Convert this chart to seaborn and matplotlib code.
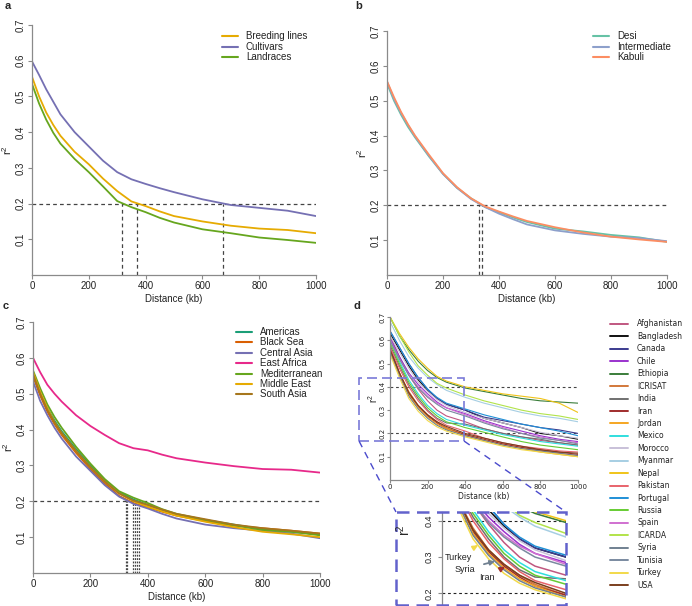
import numpy as np
import pandas as pd
import matplotlib
matplotlib.use('Agg')
import matplotlib.pyplot as plt
import seaborn as sns
from matplotlib.lines import Line2D
from matplotlib.patches import Rectangle

W, H = 692, 606

# ==================== DATA ====================

dist = [0, 25, 50, 75, 100, 150, 200, 250, 300, 350, 400, 450, 500, 600, 700, 800, 900, 1000]

# panel a
groups_a = ['Breeding lines', 'Cultivars', 'Landraces']
breeding = [0.555, 0.50, 0.455, 0.42, 0.39, 0.345, 0.31, 0.27, 0.235, 0.206, 0.193, 0.178, 0.165, 0.15, 0.138, 0.13, 0.126, 0.117]
cultivars = [0.598, 0.56, 0.52, 0.485, 0.45, 0.40, 0.36, 0.32, 0.288, 0.268, 0.255, 0.243, 0.232, 0.212, 0.196, 0.188, 0.18, 0.165]
landraces = [0.535, 0.48, 0.435, 0.398, 0.368, 0.325, 0.288, 0.248, 0.207, 0.19, 0.176, 0.16, 0.147, 0.128, 0.117, 0.105, 0.098, 0.09]
colors_a = ['#e6ab02', '#7570b3', '#66a61e']
cross_a = [316, 370, 672]

# panel b
groups_b = ['Desi', 'Intermediate', 'Kabuli']
desi = [0.55, 0.50, 0.46, 0.425, 0.395, 0.34, 0.29, 0.25, 0.22, 0.195, 0.18, 0.165, 0.152, 0.133, 0.125, 0.115, 0.108, 0.095]
intermediate = [0.555, 0.505, 0.465, 0.43, 0.398, 0.342, 0.29, 0.25, 0.218, 0.195, 0.176, 0.16, 0.145, 0.128, 0.118, 0.11, 0.106, 0.097]
kabuli = [0.556, 0.51, 0.468, 0.432, 0.40, 0.345, 0.292, 0.252, 0.22, 0.197, 0.182, 0.168, 0.155, 0.137, 0.122, 0.11, 0.102, 0.095]
colors_b = ['#66c2a5', '#8da0cb', '#fc8d62']
cross_b = [330, 340]

# panel c
groups_c = ['Americas', 'Black Sea', 'Central Asia', 'East Africa', 'Mediterranean', 'Middle East', 'South Asia']
americas = [0.55, 0.50, 0.46, 0.425, 0.395, 0.345, 0.30, 0.258, 0.225, 0.205, 0.19, 0.175, 0.163, 0.148, 0.135, 0.122, 0.115, 0.108]
black_sea = [0.55, 0.495, 0.45, 0.415, 0.385, 0.335, 0.29, 0.25, 0.215, 0.195, 0.183, 0.171, 0.16, 0.145, 0.132, 0.125, 0.118, 0.11]
central_asia = [0.535, 0.48, 0.44, 0.405, 0.375, 0.325, 0.285, 0.245, 0.213, 0.193, 0.18, 0.165, 0.152, 0.135, 0.125, 0.118, 0.11, 0.097]
east_africa = [0.60, 0.56, 0.525, 0.50, 0.478, 0.44, 0.41, 0.385, 0.362, 0.348, 0.342, 0.33, 0.32, 0.308, 0.298, 0.29, 0.288, 0.28]
mediterranean = [0.565, 0.515, 0.47, 0.435, 0.405, 0.352, 0.305, 0.262, 0.228, 0.21, 0.195, 0.178, 0.165, 0.148, 0.133, 0.12, 0.115, 0.105]
middle_east = [0.56, 0.505, 0.46, 0.42, 0.39, 0.34, 0.295, 0.255, 0.222, 0.20, 0.185, 0.172, 0.16, 0.143, 0.128, 0.115, 0.108, 0.10]
south_asia = [0.555, 0.50, 0.455, 0.42, 0.39, 0.34, 0.295, 0.255, 0.222, 0.202, 0.19, 0.177, 0.165, 0.15, 0.135, 0.125, 0.118, 0.11]
colors_c = sns.color_palette('Dark2', 7).as_hex()
cross_c = [324, 329, 349, 354, 364, 370]

# panel d
dist_d = [0, 50, 100, 150, 200, 250, 300, 400, 500, 600, 700, 800, 900, 1000]
countries = ['Afghanistan', 'Bangladesh', 'Canada', 'Chile', 'Ethiopia', 'ICRISAT', 'India', 'Iran',
             'Jordan', 'Mexico', 'Morocco', 'Myanmar', 'Nepal', 'Pakistan', 'Portugal', 'Russia',
             'Spain', 'ICARDA', 'Syria', 'Tunisia', 'Turkey', 'USA']
colors_d = ['#c05780', '#111111', '#3b3b8f', '#9a32cd', '#3a7d3a', '#d2783a', '#707070', '#a02c2c',
            '#f5a623', '#30dede', '#c8c0d8', '#a6cee3', '#f0c419', '#e8636b', '#1f8fd6', '#66cc33',
            '#d070d0', '#b2e34a', '#708090', '#7a8aa0', '#f2d94a', '#7b3f1e']
afghanistan = [0.62, 0.53, 0.45, 0.39, 0.34, 0.30, 0.275, 0.25, 0.22, 0.20, 0.185, 0.17, 0.16, 0.15]
bangladesh = [0.63, 0.56, 0.49, 0.43, 0.385, 0.35, 0.325, 0.30, 0.265, 0.245, 0.225, 0.20, 0.19, 0.175]
canada = [0.64, 0.57, 0.50, 0.44, 0.39, 0.35, 0.325, 0.30, 0.27, 0.255, 0.24, 0.225, 0.215, 0.20]
chile = [0.61, 0.53, 0.46, 0.41, 0.37, 0.335, 0.31, 0.285, 0.255, 0.23, 0.21, 0.19, 0.175, 0.165]
ethiopia = [0.70, 0.62, 0.56, 0.51, 0.47, 0.44, 0.42, 0.395, 0.38, 0.365, 0.35, 0.34, 0.335, 0.33]
icrisat = [0.56, 0.46, 0.38, 0.32, 0.28, 0.25, 0.225, 0.195, 0.17, 0.155, 0.14, 0.125, 0.115, 0.105]
india = [0.58, 0.49, 0.41, 0.35, 0.30, 0.265, 0.245, 0.24, 0.22, 0.20, 0.185, 0.175, 0.16, 0.15]
iran = [0.57, 0.46, 0.37, 0.315, 0.275, 0.245, 0.22, 0.195, 0.175, 0.155, 0.14, 0.13, 0.12, 0.11]
jordan = [0.55, 0.45, 0.365, 0.31, 0.27, 0.24, 0.22, 0.19, 0.17, 0.15, 0.135, 0.12, 0.11, 0.10]
mexico = [0.60, 0.51, 0.43, 0.37, 0.32, 0.285, 0.26, 0.235, 0.215, 0.195, 0.18, 0.165, 0.155, 0.145]
morocco = [0.62, 0.55, 0.48, 0.42, 0.38, 0.345, 0.32, 0.29, 0.265, 0.245, 0.225, 0.205, 0.19, 0.18]
myanmar = [0.68, 0.60, 0.53, 0.48, 0.44, 0.41, 0.385, 0.355, 0.33, 0.31, 0.29, 0.275, 0.265, 0.25]
nepal = [0.70, 0.63, 0.57, 0.52, 0.48, 0.445, 0.425, 0.40, 0.385, 0.37, 0.36, 0.35, 0.33, 0.29]
pakistan = [0.57, 0.48, 0.40, 0.34, 0.295, 0.26, 0.235, 0.21, 0.18, 0.16, 0.145, 0.135, 0.125, 0.12]
portugal = [0.64, 0.57, 0.50, 0.44, 0.39, 0.355, 0.33, 0.305, 0.28, 0.26, 0.24, 0.225, 0.21, 0.19]
russia = [0.59, 0.50, 0.42, 0.36, 0.31, 0.275, 0.25, 0.225, 0.205, 0.185, 0.165, 0.15, 0.14, 0.13]
spain = [0.60, 0.52, 0.45, 0.40, 0.36, 0.33, 0.31, 0.28, 0.25, 0.225, 0.20, 0.185, 0.17, 0.16]
icarda = [0.70, 0.62, 0.55, 0.49, 0.45, 0.415, 0.395, 0.365, 0.34, 0.32, 0.30, 0.285, 0.275, 0.26]
syria = [0.55, 0.45, 0.36, 0.305, 0.265, 0.235, 0.215, 0.19, 0.17, 0.15, 0.135, 0.125, 0.115, 0.105]
tunisia = [0.60, 0.52, 0.45, 0.395, 0.355, 0.325, 0.30, 0.275, 0.245, 0.22, 0.20, 0.18, 0.17, 0.155]
turkey = [0.54, 0.44, 0.35, 0.295, 0.255, 0.228, 0.21, 0.185, 0.165, 0.145, 0.13, 0.12, 0.11, 0.10]
usa = [0.56, 0.46, 0.375, 0.32, 0.28, 0.25, 0.23, 0.20, 0.18, 0.16, 0.145, 0.13, 0.12, 0.115]
values_d = [afghanistan, bangladesh, canada, chile, ethiopia, icrisat, india, iran, jordan, mexico,
            morocco, myanmar, nepal, pakistan, portugal, russia, spain, icarda, syria, tunisia, turkey, usa]
thresholds_d = [0.2, 0.4]

# ==================== HELPERS ====================

sns.set_style('ticks')
plt.rcParams['font.family'] = ['Liberation Sans', 'DejaVu Sans']
plt.rcParams['mathtext.fontset'] = 'custom'
plt.rcParams['mathtext.rm'] = 'Liberation Sans'

AX_GRAY = '#8a8a8a'
TXT = '#222222'
REF = '#444444'


def rect(l, t, r, b):
    return [l / W, 1 - b / H, (r - l) / W, (b - t) / H]


def long_df(x, names, series):
    rows = []
    for name, vals in zip(names, series):
        for xi, v in zip(x, vals):
            rows.append((name, xi, v))
    return pd.DataFrame(rows, columns=['group', 'dist', 'r2'])


def style_axes(ax, fs=7, family=None, tick_len=3, pad=1.5):
    for s in ['top', 'right']:
        ax.spines[s].set_visible(False)
    for s in ['left', 'bottom']:
        ax.spines[s].set_color(AX_GRAY)
        ax.spines[s].set_linewidth(0.9)
    ax.tick_params(colors=AX_GRAY, labelcolor=TXT, labelsize=fs, length=tick_len, width=0.8, pad=pad)
    ax.tick_params(axis='y', labelrotation=90)
    for lab in ax.get_yticklabels():
        lab.set_va('center')
        if family:
            lab.set_family(family)
    if family:
        for lab in ax.get_xticklabels():
            lab.set_family(family)


def add_legend(fig, labels, colors, x0, y0, dy, fs, hl=16, gap=8, lw=1.5, family=None):
    for i, (lab, col) in enumerate(zip(labels, colors)):
        y = 1 - (y0 + i * dy) / H
        fig.add_artist(Line2D([x0 / W, (x0 + hl) / W], [y, y], color=col, lw=lw))
        kw = {'family': family} if family else {}
        fig.text((x0 + hl + gap) / W, y, lab, fontsize=fs, va='center', color=TXT, **kw)


def ld_panel(fig, box, names, series, colors, crosses, label_pos, legend, vdash=(3, 2.5)):
    ax = fig.add_axes(rect(*box))
    df = long_df(dist, names, series)
    sns.lineplot(data=df, x='dist', y='r2', hue='group', hue_order=names,
                 palette=dict(zip(names, colors)), estimator=None, legend=False, lw=1.3, ax=ax)
    ax.axhline(0.2, color=REF, ls=(0, (3, 2.5)), lw=0.9, zorder=0)
    ax.vlines(crosses, 0, 0.2, color=REF, ls=(0, vdash), lw=0.9, zorder=0)
    ax.set_xlim(0, 1000)
    ax.set_ylim(0, 0.7)
    ax.set_xticks([0, 200, 400, 600, 800, 1000])
    ax.set_yticks([0.1, 0.2, 0.3, 0.4, 0.5, 0.6, 0.7])
    ax.set_yticklabels(['0.1', '0.2', '0.3', '0.4', '0.5', '0.6', '0.7'])
    ax.set_xlabel('Distance (kb)', fontsize=7, color=TXT, labelpad=2)
    ax.set_ylabel(r'$\mathregular{r^2}$', fontsize=8, color=TXT, labelpad=1)
    style_axes(ax)
    fig.text(label_pos[0] / W, 1 - label_pos[1] / H, label_pos[2], fontsize=8, fontweight='bold',
             ha='center', va='center')
    add_legend(fig, names, colors, *legend, fs=7)
    return ax


# ==================== FIGURE ====================

fig = plt.figure(figsize=(W / 100, H / 100), dpi=100)

ld_panel(fig, (32, 25, 316, 275), groups_a, [breeding, cultivars, landraces], colors_a, cross_a,
         (8, 6, 'a'), (222, 36, 10.5))
ld_panel(fig, (387, 31, 667, 275), groups_b, [desi, intermediate, kabuli], colors_b, cross_b,
         (359, 6, 'b'), (593, 36, 10.5))
ld_panel(fig, (33, 322, 320, 573), groups_c,
         [americas, black_sea, central_asia, east_africa, mediterranean, middle_east, south_asia],
         colors_c, cross_c, (6, 306, 'c'), (236, 332, 10.4), vdash=(1.5, 1.2))

# panel d main
pal_d = dict(zip(countries, colors_d))
df_d = long_df(dist_d, countries, values_d)
axd = fig.add_axes(rect(390, 317, 578, 480))
sns.lineplot(data=df_d, x='dist', y='r2', hue='group', hue_order=countries, palette=pal_d,
             estimator=None, legend=False, lw=0.8, ax=axd)
for t in thresholds_d:
    axd.axhline(t, color=REF, ls=(0, (2.5, 2.5)), lw=0.8, zorder=0)
axd.set_xlim(0, 1000)
axd.set_ylim(0, 0.7)
axd.set_xticks([0, 200, 400, 600, 800, 1000])
axd.set_yticks([0.1, 0.2, 0.3, 0.4, 0.5, 0.6, 0.7])
axd.set_yticklabels(['0.1', '0.2', '0.3', '0.4', '0.5', '0.6', '0.7'])
axd.set_xlabel('Distance (kb)', fontsize=5.5, color=TXT, labelpad=1.5, family='DejaVu Sans')
axd.set_ylabel(r'$\mathregular{r^2}$', fontsize=7, color=TXT, labelpad=0)
style_axes(axd, fs=5, family='DejaVu Sans', tick_len=2, pad=1)
fig.text(357 / W, 1 - 306 / H, 'd', fontsize=8, fontweight='bold', ha='center', va='center')
add_legend(fig, countries, colors_d, 610, 324, 12.43, fs=5.5, hl=18, gap=9, lw=1.4, family='DejaVu Sans')

# inset
axi = fig.add_axes(rect(442, 512, 566, 605))
sns.lineplot(data=df_d, x='dist', y='r2', hue='group', hue_order=countries, palette=pal_d,
             estimator=None, legend=False, lw=1.1, ax=axi)
for t in thresholds_d:
    axi.axhline(t, color='#222222', ls=(0, (2.5, 2.5)), lw=0.8, zorder=0)
axi.set_xlim(0, 400)
axi.set_ylim(0.168, 0.424)
axi.set_xticks([])
axi.set_yticks([0.2, 0.3, 0.4])
axi.set_yticklabels(['0.2', '0.3', '0.4'])
axi.set_xlabel('')
axi.set_ylabel('')
style_axes(axi, fs=6.5, tick_len=3, pad=3)
axi.spines['bottom'].set_visible(False)
fig.text(404 / W, 1 - 530 / H, r'$\mathregular{r^2}$', fontsize=10, rotation=90, ha='center', va='center')

notes = [('Turkey', turkey, 116, (52, 0.300)), ('Syria', syria, 171, (74, 0.267)), ('Iran', iran, 203, (145, 0.245))]
for name, vals, xt, pos in notes:
    col = pal_d[name]
    axi.annotate(name, xy=(xt, np.interp(xt, dist_d, vals)), xytext=pos, fontsize=6.5, color=TXT,
                 ha='center', va='center',
                 arrowprops=dict(arrowstyle='-|>', color=col, lw=1.3, mutation_scale=7, shrinkA=4, shrinkB=0))

# zoom box and connectors
fig.add_artist(Rectangle((359 / W, 1 - 441 / H), 105 / W, 63 / H, transform=fig.transFigure, fill=False,
                         ls=(0, (6, 3)), ec='#7a7ad8', lw=1.2))
fig.add_artist(Rectangle((396 / W, 1 - 605 / H), 170 / W, 93 / H, transform=fig.transFigure, fill=False,
                         ls=(0, (5, 3)), ec='#6262cc', lw=1.8))
for (xa, ya), (xb, yb) in [((359, 441), (396, 512)), ((464, 441), (566, 512))]:
    fig.add_artist(Line2D([xa / W, xb / W], [1 - ya / H, 1 - yb / H], color='#4a4acc', lw=1.0,
                          ls=(0, (5, 4))))

fig.savefig('out.png', dpi=100)
